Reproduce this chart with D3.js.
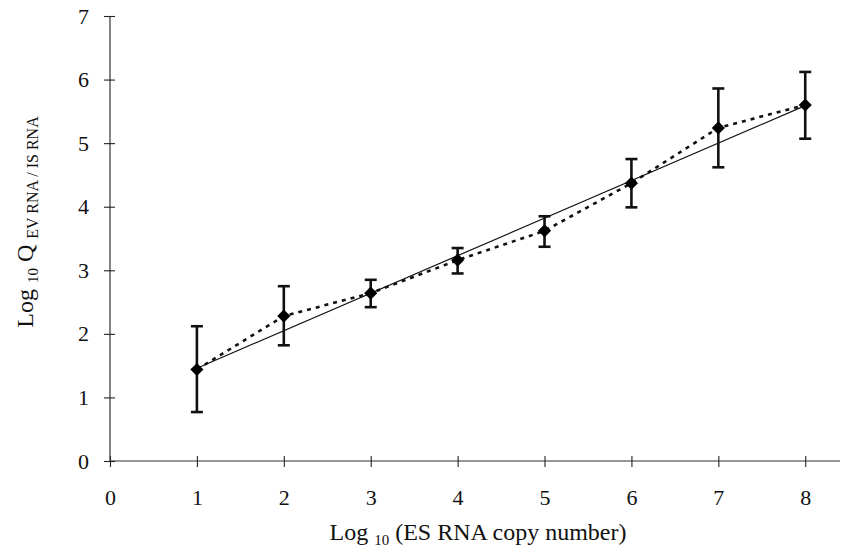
<!DOCTYPE html>
<html>
<head>
<meta charset="utf-8">
<script src="https://cdn.jsdelivr.net/npm/d3@7"></script>
<style>
  body { margin: 0; background: #fff; }
  text { font-family: "Liberation Serif", "Times New Roman", serif; fill: #111; }
</style>
</head>
<body>
<div id="chart"></div>
<script>
// copy number (log10) and measured log10 Q with error bar ends
const copyLog = [1, 2, 3, 4, 5, 6, 7, 8];
const qMean = [1.44, 2.28, 2.64, 3.16, 3.62, 4.37, 5.24, 5.60];
const qHigh = [2.12, 2.75, 2.85, 3.35, 3.85, 4.75, 5.86, 6.12];
const qLow = [0.77, 1.82, 2.42, 2.95, 3.37, 3.99, 4.62, 5.07];
// linear fit
const fitSlope = 0.59;
const fitIntercept = 0.87;
const xTicks = [0, 1, 2, 3, 4, 5, 6, 7, 8];
const yTicks = [0, 1, 2, 3, 4, 5, 6, 7];

const width = 841;
const height = 549;

const svg = d3.select("#chart")
  .append("svg")
  .attr("width", width)
  .attr("height", height);

const xScale = d3.scaleLinear().domain([0, 8.4]).range([110, 840]);
const yScale = d3.scaleLinear().domain([0, 7]).range([461, 16]);

// axes
const xAxis = d3.axisBottom(xScale).tickValues(xTicks).tickFormat(d3.format("d")).tickSize(6);
const yAxis = d3.axisLeft(yScale).tickValues(yTicks).tickFormat(d3.format("d")).tickSize(6).tickPadding(15);

const xAxisG = svg.append("g")
  .attr("transform", `translate(0,${yScale(0)})`)
  .call(xAxis);
const yAxisG = svg.append("g")
  .attr("transform", `translate(${xScale(0)},0)`)
  .call(yAxis);

[xAxisG, yAxisG].forEach(g => {
  g.select(".domain").attr("stroke", "#333").attr("stroke-width", 1.2);
  g.selectAll(".tick line").attr("stroke", "#222").attr("stroke-width", 1.1);
  g.selectAll(".tick text")
    .attr("font-size", 22)
    .attr("font-family", "Liberation Serif, Times New Roman, serif")
    .attr("fill", "#111");
});
xAxisG.select(".domain").attr("d", `M${xScale(0)},0H${xScale(8.4)}`);
yAxisG.select(".domain").attr("d", `M0,${yScale(7)}V${yScale(0)}`);
// ticks cross the axis lines
xAxisG.selectAll(".tick line").attr("y1", -5).attr("y2", 6);
yAxisG.selectAll(".tick line").attr("x1", 5).attr("x2", -6);
xAxisG.selectAll(".tick text").attr("dy", "0.71em").attr("y", 28);

// fit line
const fitX = [copyLog[0], copyLog[copyLog.length - 1]];
svg.append("line")
  .attr("x1", xScale(fitX[0]))
  .attr("y1", yScale(fitIntercept + fitSlope * fitX[0]))
  .attr("x2", xScale(fitX[1]))
  .attr("y2", yScale(fitIntercept + fitSlope * fitX[1]))
  .attr("stroke", "#111")
  .attr("stroke-width", 1.2);

// dotted connecting line
const line = d3.line()
  .x((d, i) => xScale(copyLog[i]))
  .y(d => yScale(d));
svg.append("path")
  .datum(qMean)
  .attr("d", line)
  .attr("fill", "none")
  .attr("stroke", "#111")
  .attr("stroke-width", 2.6)
  .attr("stroke-dasharray", "4,5");

// error bars
const errG = svg.append("g").attr("stroke", "#111").attr("stroke-width", 2.6);
copyLog.forEach((c, i) => {
  const x = xScale(c);
  errG.append("line")
    .attr("x1", x).attr("x2", x)
    .attr("y1", yScale(qLow[i])).attr("y2", yScale(qHigh[i]));
  [qLow[i], qHigh[i]].forEach(v => {
    errG.append("line")
      .attr("x1", x - 6).attr("x2", x + 6)
      .attr("y1", yScale(v)).attr("y2", yScale(v));
  });
});

// diamond markers
svg.append("g")
  .selectAll("path")
  .data(qMean)
  .enter()
  .append("path")
  .attr("d", d3.symbol().type(d3.symbolDiamond2).size(110))
  .attr("transform", (d, i) => `translate(${xScale(copyLog[i])},${yScale(d)})`)
  .attr("fill", "#000");

// axis titles
svg.append("text")
  .attr("x", 478)
  .attr("y", 540)
  .attr("text-anchor", "middle")
  .attr("font-size", 24)
  .call(t => {
    t.append("tspan").text("Log ");
    t.append("tspan").attr("font-size", 15).attr("dy", 5).text("10");
    t.append("tspan").attr("dy", -5).text(" (ES RNA copy number)");
  });

svg.append("text")
  .attr("transform", "translate(33,222) rotate(-90)")
  .attr("text-anchor", "middle")
  .attr("font-size", 24)
  .call(t => {
    t.append("tspan").text("Log ");
    t.append("tspan").attr("font-size", 15).attr("dy", 5).text("10");
    t.append("tspan").attr("dy", -5).text(" Q ");
    t.append("tspan").attr("font-size", 16).attr("dy", 5).text("EV RNA / IS RNA");
  });
</script>
</body>
</html>
